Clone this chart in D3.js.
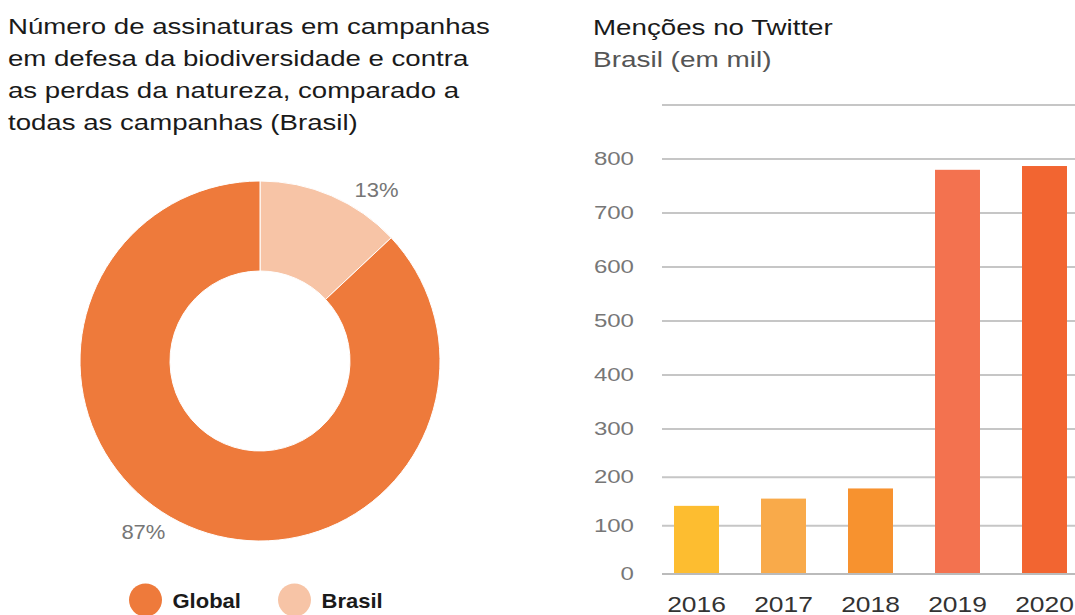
<!DOCTYPE html>
<html><head><meta charset="utf-8">
<script src="https://cdn.jsdelivr.net/npm/d3@7"></script>
<style>
body{margin:0;background:#fff;}
svg{display:block;font-family:"Liberation Sans",Arial,sans-serif;}
</style></head>
<body>
<svg id="c" width="1075" height="615"></svg>
<script>
const titleLines = ["Número de assinaturas em campanhas","em defesa da biodiversidade e contra","as perdas da natureza, comparado a","todas as campanhas (Brasil)"];
const donutLabels = ["Brasil","Global"];
const donutValues = [13,87];
const donutColors = ["#F7C4A6","#EE7A3B"];
const legendOrder = ["Global","Brasil"];

const barTitle = "Menções no Twitter";
const barSubtitle = "Brasil (em mil)";
const years = ["2016","2017","2018","2019","2020"];
const mentions = [141,156,177,780,787];
const barColors = ["#FDBD30","#F9AA4A","#F7922F","#F3724F","#F26531"];
const yTicks = [0,100,200,300,400,500,600,700,800,900];
const yTickLabels = ["0","100","200","300","400","500","600","700","800",""];

const svg = d3.select("#c");

// helper: text stretched horizontally (the reference is horizontally stretched)
function stext(parent, x, y, str, size, sx, opts={}) {
  const el = parent.append("text")
    .attr("transform", `translate(${x},${y}) scale(${sx},1)`)
    .attr("font-size", size).text(str);
  Object.entries(opts).forEach(([k,v])=>el.attr(k,v));
  return el;
}

// Left title
titleLines.forEach((l,i)=>stext(svg, 8, 34+i*32, l, 22, 1.255, {fill:"#1a1a1a"}));

// Donut
const cx=260, cy=361;
const pie = d3.pie().sort(null).value(d=>d)(donutValues);
const arc = d3.arc().innerRadius(90).outerRadius(180);
const g = svg.append("g").attr("transform",`translate(${cx},${cy})`);
g.selectAll("path").data(pie).join("path").attr("d",arc)
  .attr("fill",(d,i)=>donutColors[i]).attr("stroke","#fff").attr("stroke-width",1);
const labelArc = d3.arc().innerRadius(207).outerRadius(207);
pie.forEach((d,i)=>{
  const c = labelArc.centroid({startAngle:d.startAngle+0.19,endAngle:d.endAngle+0.19});
  stext(g, c[0], c[1], donutValues[i]+"%", 20, 1.1,
    {"text-anchor":"middle","dominant-baseline":"central",fill:"#767676"});
});

// Legend
const legX = [145.5,294.5];
legendOrder.forEach((name,i)=>{
  const idx = donutLabels.indexOf(name);
  svg.append("circle").attr("cx",legX[i]).attr("cy",600).attr("r",16.5).attr("fill",donutColors[idx]);
  stext(svg, legX[i]+27, 608, name, 20, 1.1, {"font-weight":"bold",fill:"#1a1a1a"});
});

// Bar chart titles
stext(svg, 593, 35, barTitle, 22, 1.26, {fill:"#1a1a1a"});
stext(svg, 593, 67, barSubtitle, 21.5, 1.3, {fill:"#555"});

const y = d3.scaleLinear().domain([0,300,900]).range([574,429,105]);
const x = d3.scaleBand().domain(years).range([653,1088]).paddingInner(0.483).paddingOuter(0.2415);

svg.append("g").selectAll("line").data(yTicks).join("line")
  .attr("x1",662).attr("x2",1075).attr("y1",d=>y(d)).attr("y2",d=>y(d))
  .attr("stroke","#C6C6C6").attr("stroke-width",2);
const yl = svg.append("g");
yTicks.forEach((d,i)=>stext(yl, 634, y(d), yTickLabels[i], 18.5, 1.3,
  {"text-anchor":"end","dominant-baseline":"central",fill:"#777"}));

svg.append("g").selectAll("rect").data(mentions).join("rect")
  .attr("x",(d,i)=>x(years[i])).attr("width",x.bandwidth())
  .attr("y",d=>y(d)).attr("height",d=>y(0)-y(d)).attr("fill",(d,i)=>barColors[i]);
svg.append("line").attr("x1",662).attr("x2",1075).attr("y1",y(0)).attr("y2",y(0)).attr("stroke","#bbb").attr("stroke-width",2);

const xl = svg.append("g");
years.forEach(d=>stext(xl, x(d)+x.bandwidth()/2, 611.5, d, 22, 1.2,
  {"text-anchor":"middle",fill:"#333"}));
</script>
</body></html>
